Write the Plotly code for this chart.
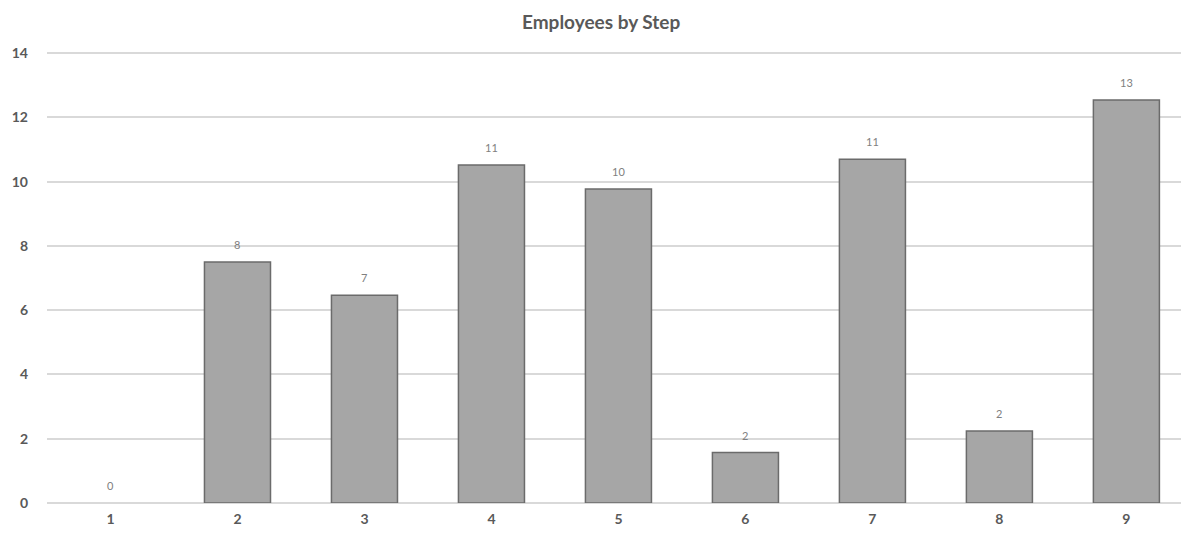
import plotly.graph_objects as go

steps = ["1", "2", "3", "4", "5", "6", "7", "8", "9"]
employees = [0, 7.5, 6.47, 10.52, 9.77, 1.57, 10.7, 2.24, 12.54]
labels = ["0", "8", "7", "11", "10", "2", "11", "2", "13"]
y_ticks = [0, 2, 4, 6, 8, 10, 12, 14]

fig = go.Figure()
fig.add_trace(go.Bar(
    x=steps, y=employees,
    marker=dict(color="#a6a6a6",
                line=dict(color="#6b6b6b", width=[0 if v == 0 else 1.5 for v in employees])),
))
for i, (v, t) in enumerate(zip(employees, labels)):
    fig.add_annotation(x=i, y=v, text=t, showarrow=False, yanchor="bottom", yshift=9,
                       font=dict(family="Lato", size=11, color="#808080"))
fig.update_layout(
    width=1181, height=536,
    margin=dict(l=47, r=0, t=50, b=33),
    paper_bgcolor="white", plot_bgcolor="white",
    title=dict(text="<b>Employees by Step</b>", x=0.509, xanchor="center", y=0.958, yanchor="middle",
               font=dict(family="Lato", size=19, color="#595959")),
    bargap=0.48,
    showlegend=False,
    xaxis=dict(type="category", range=[-0.5, 8.43], showgrid=False, showline=False, ticks="",
               ticklabelstandoff=6,
               tickfont=dict(family="Lato", size=14, color="#595959", weight="bold")),
    yaxis=dict(range=[0, 14.1], tickvals=y_ticks, showgrid=True, gridcolor="#d9d9d9", gridwidth=1.5,
               zeroline=True, zerolinecolor="#d9d9d9", zerolinewidth=1.5, ticks="", ticklabelstandoff=18,
               tickfont=dict(family="Lato", size=14, color="#595959", weight="bold")),
)
fig.write_html("out.html")
